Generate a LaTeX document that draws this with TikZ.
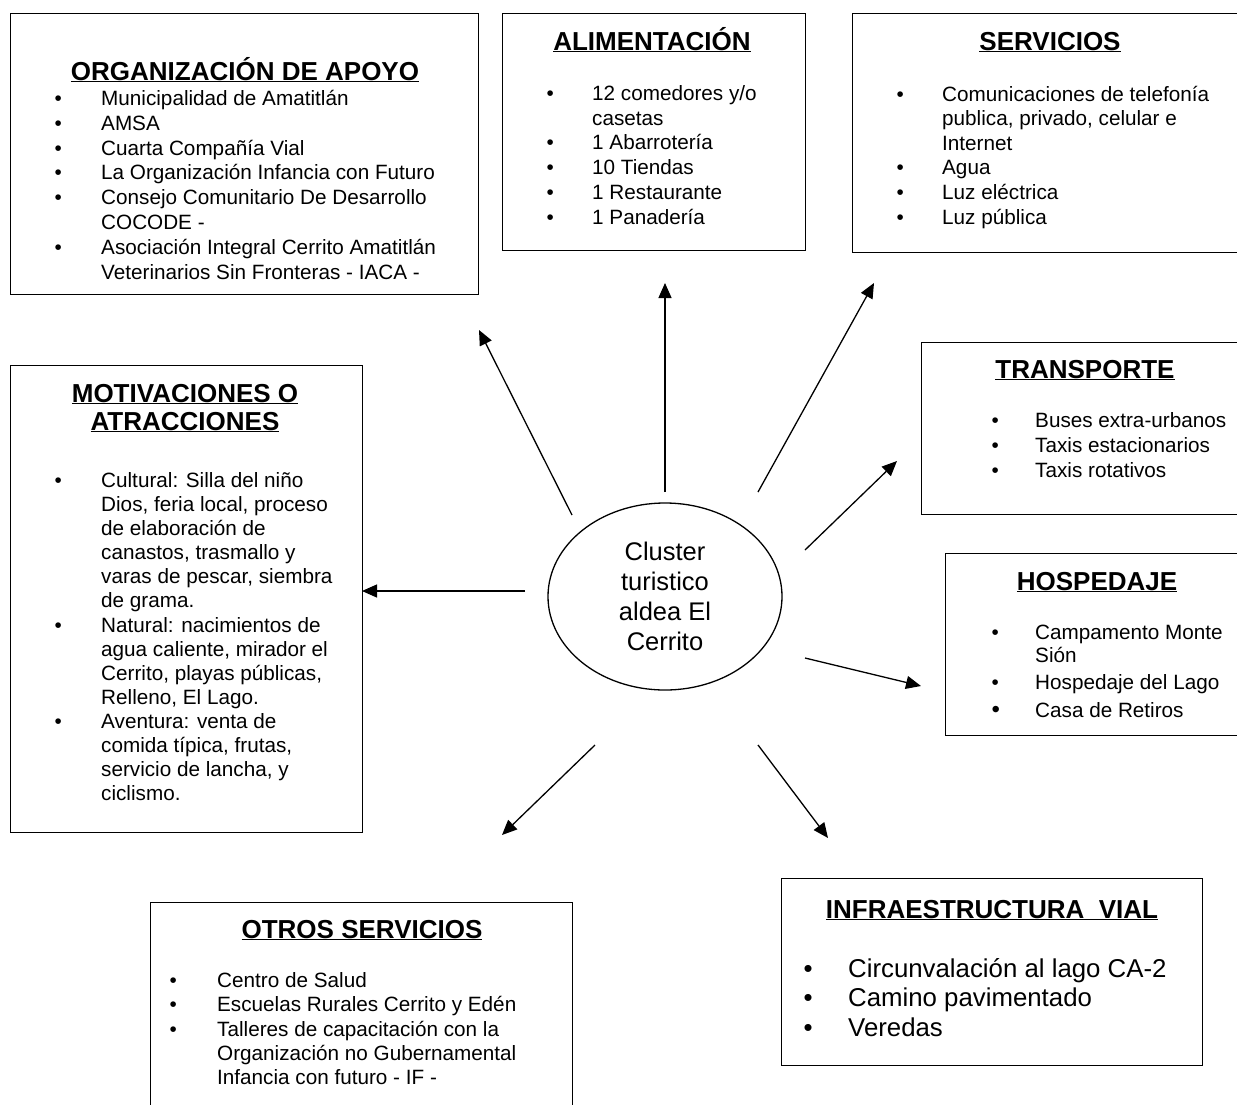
\documentclass[tikz,border=0pt]{standalone}
\usepackage{fontspec}
\setmainfont{Liberation Sans}
\usetikzlibrary{shapes.geometric,arrows.meta}
\newlength\bw
\newcommand\bl{\makebox[\bw][l]{\textbullet}}
\tikzset{
  boxst/.style={draw, line width=1.4pt, rectangle, inner sep=0pt, anchor=north west},
  ttl/.style={font=\fontsize{26}{30}\selectfont\bfseries, anchor=base, inner sep=0pt},
  lst/.style={anchor=base west, inner sep=0pt},
  arr/.style={line width=1.3pt, -{Triangle[length=15pt,width=13pt]}},
}
\begin{document}
\begin{tikzpicture}[x=1pt,y=-1pt]
\useasboundingbox (0,0) rectangle (1237,1104);
\clip (0,0) rectangle (1237,1104);

% ---------- boxes ----------
\node[boxst, minimum width=468pt, minimum height=281pt] (bOrg) at (10,13) {};
\node[boxst, minimum width=303pt, minimum height=237pt] (bAli) at (502,13) {};
\node[boxst, minimum width=400pt, minimum height=239pt] (bSer) at (852,13) {};
\node[boxst, minimum width=352pt, minimum height=467pt] (bMot) at (10,365) {};
\node[boxst, minimum width=330pt, minimum height=172pt] (bTra) at (921,342) {};
\node[boxst, minimum width=310pt, minimum height=182pt] (bHos) at (945,553) {};
\node[boxst, minimum width=422pt, minimum height=230pt] (bOtr) at (150,902) {};
\node[boxst, minimum width=421pt, minimum height=187pt] (bInf) at (781,878) {};

% ---------- titles ----------
\node[ttl] (tOrg) at (245,80) {\underline{ORGANIZACIÓN DE APOYO}};
\node[ttl] (tAli) at (652,50) {\underline{ALIMENTACIÓN}};
\node[ttl] (tSer) at (1050,50) {\underline{SERVICIOS}};
\node[ttl] (tMot1) at (185,402) {\underline{MOTIVACIONES O}};
\node[ttl] (tMot2) at (185,430) {\underline{ATRACCIONES}};
\node[ttl] (tTra) at (1085,378) {\underline{TRANSPORTE}};
\node[ttl] (tHos) at (1097,590) {\underline{HOSPEDAJE}};
\node[ttl] (tOtr) at (362,938) {\underline{OTROS SERVICIOS}};
\node[ttl] (tInf) at (992,918) {\underline{INFRAESTRUCTURA\ \ VIAL}};

% ---------- lists ----------
\node[lst] (lOrg) at (54.4,105.5) {\fontsize{20.7}{24.8}\selectfont\setlength\bw{46.6pt}%
\begin{tabular}[t]{@{}l@{}l@{}}
\bl & Municipalidad de Amatitlán\\
\bl & AMSA\\
\bl & Cuarta Compañía Vial\\
\bl & La Organización Infancia con Futuro\\
\bl & Consejo Comunitario De Desarrollo\\
    & COCODE -\\
\bl & Asociación Integral Cerrito Amatitlán\\
    & Veterinarios Sin Fronteras - IACA -
\end{tabular}};

\node[lst] (lAli) at (546.4,100.5) {\fontsize{20.7}{24.7}\selectfont\setlength\bw{45.6pt}%
\begin{tabular}[t]{@{}l@{}l@{}}
\bl & 12 comedores y/o\\
    & casetas\\
\bl & 1 Abarrotería\\
\bl & 10 Tiendas\\
\bl & 1 Restaurante\\
\bl & 1 Panadería
\end{tabular}};

\node[lst] (lSer) at (896.4,101) {\fontsize{20.7}{24.6}\selectfont\setlength\bw{45.6pt}%
\begin{tabular}[t]{@{}l@{}l@{}}
\bl & Comunicaciones de telefonía\\
    & publica, privado, celular e\\
    & Internet\\
\bl & Agua\\
\bl & Luz eléctrica\\
\bl & Luz pública
\end{tabular}};

\node[lst] (lMot) at (54.4,487.4) {\fontsize{20.7}{24.1}\selectfont\setlength\bw{46.6pt}%
\begin{tabular}[t]{@{}l@{}l@{}}
\bl & Cultural: Silla del niño\\
    & Dios, feria local, proceso\\
    & de elaboración de\\
    & canastos, trasmallo y\\
    & varas de pescar, siembra\\
    & de grama.\\
\bl & Natural: nacimientos de\\
    & agua caliente, mirador el\\
    & Cerrito, playas públicas,\\
    & Relleno, El Lago.\\
\bl & Aventura: venta de\\
    & comida típica, frutas,\\
    & servicio de lancha, y\\
    & ciclismo.
\end{tabular}};

\node[lst] (lTra) at (991.4,427.4) {\fontsize{20.7}{24.8}\selectfont\setlength\bw{43.6pt}%
\begin{tabular}[t]{@{}l@{}l@{}}
\bl & Buses extra-urbanos\\
\bl & Taxis estacionarios\\
\bl & Taxis rotativos
\end{tabular}};

\node[lst] (lHos) at (991.4,639.4) {\fontsize{20.7}{23.5}\selectfont\setlength\bw{43.6pt}%
\begin{tabular}[t]{@{}l@{}l@{}}
\bl & Campamento Monte\\
    & Sión\\[3pt]
\bl & Hospedaje del Lago\\[4.5pt]
{\fontsize{24}{24}\selectfont\bl} & Casa de Retiros
\end{tabular}};

\node[lst] (lOtr) at (169.4,987.4) {\fontsize{20.7}{24.3}\selectfont\setlength\bw{47.6pt}%
\begin{tabular}[t]{@{}l@{}l@{}}
\bl & Centro de Salud\\
\bl & Escuelas Rurales Cerrito y Edén\\
\bl & Talleres de capacitación con la\\
    & Organización no Gubernamental\\
    & Infancia con futuro - IF -
\end{tabular}};

\node[lst] (lInf) at (803.5,977.3) {\fontsize{25.8}{29.5}\selectfont\setlength\bw{44.5pt}%
\begin{tabular}[t]{@{}l@{}l@{}}
\bl & Circunvalación al lago CA-2\\
\bl & Camino pavimentado\\
\bl & Veredas
\end{tabular}};

% ---------- centre ----------
\node[ellipse, draw, line width=1.3pt, minimum width=234pt, minimum height=187pt,
      inner sep=0pt, align=center, font=\fontsize{25.5}{30}\selectfont] (cl) at (665,596.5)
      {Cluster\\turistico\\aldea El\\Cerrito};

% ---------- connectors ----------
\coordinate (sOrg) at (572,515); \coordinate (eOrg) at (479,330);
\coordinate (sAli) at (665,492); \coordinate (eAli) at (665,283);
\coordinate (sSer) at (758,492); \coordinate (eSer) at (874,283);
\coordinate (sTra) at (805,550); \coordinate (eTra) at (897,461);
\coordinate (sMot) at (525,591); \coordinate (eMot) at (362,591);
\coordinate (sHos) at (805,658); \coordinate (eHos) at (921,686);
\coordinate (sOtr) at (595,745); \coordinate (eOtr) at (502,835);
\coordinate (sInf) at (758,745); \coordinate (eInf) at (828,838);
\foreach \n in {Org,Ali,Ser,Tra,Mot,Hos,Otr,Inf}
  \draw[arr] (s\n) -- (e\n);
\end{tikzpicture}
\end{document}
